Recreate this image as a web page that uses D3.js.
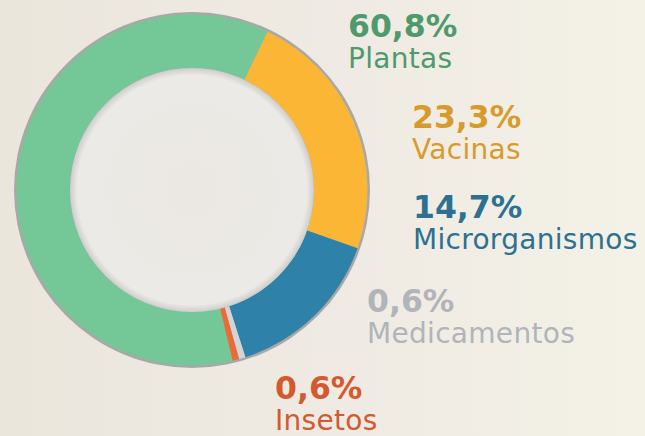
<!DOCTYPE html>
<html><head><meta charset="utf-8">
<script src="https://cdn.jsdelivr.net/npm/d3@7"></script>
<style>
html,body{margin:0;padding:0;background:#ede8de;}
svg{display:block;}
</style></head>
<body>
<svg id="chart" width="645" height="436"></svg>
<script>
const categories = ["Plantas", "Vacinas", "Microrganismos", "Medicamentos", "Insetos"];
const values = [60.8, 23.3, 14.7, 0.6, 0.6];
const valueLabels = ["60,8%", "23,3%", "14,7%", "0,6%", "0,6%"];
const sliceColors = ["#74c796", "#fbb636", "#2e81a9", "#d2d4d6", "#ec6a34"];
const textColors = ["#4f9a6c", "#d99a2c", "#2c7191", "#b1b4b8", "#d35a2e"];

const W = 645, H = 436;
const svg = d3.select("#chart");

// soft background
const defs = svg.append("defs");
const bg = defs.append("linearGradient").attr("id", "bg").attr("x1", 0).attr("x2", 1).attr("y1", 0).attr("y2", 0);
bg.append("stop").attr("offset", "0%").attr("stop-color", "#ebe6dc");
bg.append("stop").attr("offset", "55%").attr("stop-color", "#efebe4");
bg.append("stop").attr("offset", "100%").attr("stop-color", "#f4f1e6");
svg.append("rect").attr("width", W).attr("height", H).attr("fill", "url(#bg)");
const hole = defs.append("radialGradient").attr("id", "hole");
hole.append("stop").attr("offset", "0%").attr("stop-color", "#ebe8e3");
hole.append("stop").attr("offset", "94%").attr("stop-color", "#eceae6");
hole.append("stop").attr("offset", "100%").attr("stop-color", "#cfcdca");

const cx = 192, cy = 190, rOuter = 178, rInner = 122;
const g = svg.append("g").attr("transform", `translate(${cx},${cy})`);

const startDeg = 166.6;
const pie = d3.pie().sort(null).value(d => d)
  .startAngle(startDeg * Math.PI / 180)
  .endAngle((startDeg + 360) * Math.PI / 180);
const arc = d3.arc().innerRadius(rInner).outerRadius(rOuter - 2.5);

g.append("circle").attr("r", rOuter).attr("fill", "#a8a8a8");
g.selectAll("path.slice").data(pie(values)).join("path")
  .attr("class", "slice")
  .attr("d", arc)
  .attr("fill", (d, i) => sliceColors[i]);
g.append("circle").attr("r", rInner).attr("fill", "url(#hole)");

// labels
const labelX = [348, 412, 413, 367, 275];
const labelY = [37, 128, 218, 312, 399];
const lab = svg.append("g").attr("font-family", "'DejaVu Sans', sans-serif");
categories.forEach((c, i) => {
  lab.append("text").attr("x", labelX[i]).attr("y", labelY[i])
    .attr("fill", textColors[i]).attr("font-size", 31.5).attr("font-weight", 700)
    .text(valueLabels[i]);
  lab.append("text").attr("x", labelX[i]).attr("y", labelY[i] + 30.5)
    .attr("fill", textColors[i]).attr("font-size", 28).attr("font-weight", 400)
    .attr("letter-spacing", 0.3)
    .text(c);
});
</script>
</body></html>
